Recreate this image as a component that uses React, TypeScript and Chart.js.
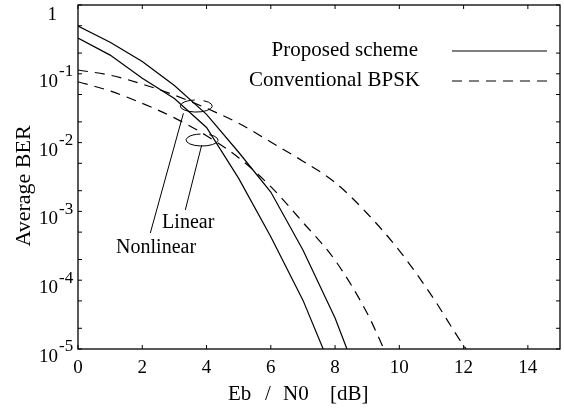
import React, { useEffect, useRef } from "react";
import { Chart, registerables } from "chart.js";

Chart.register(...registerables);

const FONT = '"Liberation Serif", "Times New Roman", Times, serif';

// ---- axis ticks ----
const xTicks = [0, 2, 4, 6, 8, 10, 12, 14];
const yDecades = [1, 1e-1, 1e-2, 1e-3, 1e-4, 1e-5];
const yDecadeExp = ["", "-1", "-2", "-3", "-4", "-5"];
const yMinor = [0.5, 0.2, 0.05, 0.02, 0.005, 0.002, 5e-4, 2e-4, 5e-5, 2e-5];

// ---- series: Proposed scheme (solid) ----
const snrPropNonlinear = [0, 1, 2, 3, 4, 5, 6, 7, 8, 8.37];
const berPropNonlinear = [0.495, 0.288, 0.151, 0.0676, 0.0257, 0.00724, 0.00191, 2.75e-4, 2.82e-5, 1e-5];
const snrPropLinear = [0, 1, 2, 3, 4, 5, 6, 7, 7.63];
const berPropLinear = [0.331, 0.187, 0.0861, 0.0437, 0.0166, 0.00302, 4.27e-4, 5.13e-5, 1e-5];

// ---- series: Conventional BPSK (dashed) ----
const snrConvNonlinear = [0, 1, 2, 3, 4, 5, 6, 7, 8, 9, 10, 11, 12, 12.08];
const berConvNonlinear = [0.1135, 0.0955, 0.0708, 0.049, 0.0316, 0.0191, 0.0102, 0.00537, 0.00263, 9.33e-4, 2.69e-4, 6.03e-5, 1.12e-5, 1e-5];
const snrConvLinear = [0, 1, 2, 3, 4, 5, 6, 7, 8, 9, 9.52];
const berConvLinear = [0.0767, 0.0562, 0.0372, 0.0229, 0.0126, 0.00603, 0.00229, 6.92e-4, 1.95e-4, 3.31e-5, 1e-5];

// ---- texts ----
const legendLabels = ["Proposed scheme", "Conventional BPSK"];
const xTitleParts = ["Eb", "/", "N0", "[dB]"];
const yTitle = "Average BER";

// annotation anchors in data coordinates [dB, BER]
const annNonlinear = { label: "Nonlinear", ellipse: [3.68, 0.034], from: [3.28, 0.0267], to: [2.25, 4.85e-4], text: [2.43, 2.99e-4] };
const annLinear = { label: "Linear", ellipse: [3.86, 0.0109], from: [3.85, 0.00923], to: [3.34, 1.05e-3], text: [3.43, 6.9e-4] };

const toXY = (xs: number[], ys: number[]) => xs.map((x, i) => ({ x, y: ys[i] }));

const DASH = [10, 7];

const decorPlugin = {
  id: "decor",
  afterDraw(chart: any) {
    const { ctx, chartArea: a, scales } = chart;
    const xs = scales.x;
    const ys = scales.y;
    const P = (d: number[]) => [xs.getPixelForValue(d[0]), ys.getPixelForValue(d[1])];
    const line = (x1: number, y1: number, x2: number, y2: number) => {
      ctx.beginPath();
      ctx.moveTo(x1, y1);
      ctx.lineTo(x2, y2);
      ctx.stroke();
    };
    ctx.save();
    ctx.strokeStyle = "#000";
    ctx.fillStyle = "#000";
    ctx.setLineDash([]);

    // frame
    ctx.lineWidth = 1.3;
    ctx.strokeRect(a.left, a.top, a.right - a.left, a.bottom - a.top);

    // inward ticks
    ctx.lineWidth = 1;
    const tl = 4;
    for (const v of xTicks) {
      const px = xs.getPixelForValue(v);
      line(px, a.bottom, px, a.bottom - tl);
      line(px, a.top, px, a.top + tl);
    }
    for (const v of [...yDecades, ...yMinor]) {
      const py = ys.getPixelForValue(v);
      line(a.left, py, a.left + tl, py);
      line(a.right, py, a.right - tl, py);
    }

    // y tick labels with superscripts
    ctx.textBaseline = "middle";
    yDecades.forEach((v, i) => {
      const py = ys.getPixelForValue(v);
      const exp = yDecadeExp[i];
      const bx = a.left - 20;
      if (!exp) {
        ctx.font = `19px ${FONT}`;
        ctx.textAlign = "right";
        ctx.fillText("1", bx - 1, py + 10);
      } else {
        ctx.font = `19px ${FONT}`;
        ctx.textAlign = "right";
        ctx.fillText("10", bx, py + 8);
        ctx.font = `17px ${FONT}`;
        ctx.textAlign = "left";
        ctx.fillText(exp, bx + 1, py - 2);
      }
    });

    // x title
    ctx.font = `21px ${FONT}`;
    ctx.textAlign = "left";
    ctx.textBaseline = "alphabetic";
    const cx = (a.left + a.right) / 2;
    const offs = [-91, -54, -36, 11];
    xTitleParts.forEach((t, i) => ctx.fillText(t, cx + offs[i], 400));

    // y title
    ctx.save();
    ctx.translate(30, (a.top + a.bottom) / 2 + 9);
    ctx.rotate(-Math.PI / 2);
    ctx.textAlign = "center";
    ctx.font = `22px ${FONT}`;
    ctx.fillText(yTitle, 0, 0);
    ctx.restore();

    // legend
    ctx.font = `21px ${FONT}`;
    ctx.textAlign = "right";
    ctx.textBaseline = "middle";
    const lx = a.right - 142;
    const ly = [a.top + 45, a.top + 75];
    ctx.fillText(legendLabels[0], lx, ly[0]);
    ctx.fillText(legendLabels[1], lx + 2, ly[1]);
    ctx.lineWidth = 1.2;
    line(a.right - 108, ly[0] + 1, a.right - 13, ly[0] + 1);
    ctx.setLineDash(DASH);
    line(a.right - 108, ly[1] + 1, a.right - 13, ly[1] + 1);
    ctx.setLineDash([]);

    // annotations
    ctx.lineWidth = 1;
    for (const ann of [annNonlinear, annLinear]) {
      const [ex, ey] = P(ann.ellipse);
      ctx.beginPath();
      ctx.ellipse(ex, ey, 16, 6, 0, -1.1, -1.1 + Math.PI * 1.82);
      ctx.stroke();
      const [fx, fy] = P(ann.from);
      const [tx, ty] = P(ann.to);
      line(fx, fy, tx, ty);
      const [qx, qy] = P(ann.text);
      ctx.font = `20px ${FONT}`;
      ctx.textAlign = "center";
      ctx.textBaseline = "middle";
      ctx.fillText(ann.label, qx, qy);
    }
    ctx.restore();
  },
};

export default function App() {
  const ref = useRef<HTMLCanvasElement>(null);
  useEffect(() => {
    if (!ref.current) return;
    const solid = { borderColor: "#000", borderWidth: 1.2, pointRadius: 0, tension: 0, fill: false };
    const dashed = { ...solid, borderDash: DASH, cubicInterpolationMode: "monotone" as const };
    const chart = new Chart(ref.current, {
      type: "line",
      data: {
        datasets: [
          { label: "Proposed (nonlinear)", data: toXY(snrPropNonlinear, berPropNonlinear), ...solid },
          { label: "Proposed (linear)", data: toXY(snrPropLinear, berPropLinear), ...solid },
          { label: "Conventional BPSK (nonlinear)", data: toXY(snrConvNonlinear, berConvNonlinear), ...dashed },
          { label: "Conventional BPSK (linear)", data: toXY(snrConvLinear, berConvLinear), ...dashed },
        ],
      },
      options: {
        responsive: false,
        animation: false,
        devicePixelRatio: 1,
        layout: { padding: { left: 78, right: 4, top: 5, bottom: 0 } },
        plugins: { legend: { display: false }, tooltip: { enabled: false } },
        scales: {
          x: {
            type: "linear",
            min: 0,
            max: 15,
            position: "bottom",
            afterBuildTicks: (s: any) => {
              s.ticks = xTicks.map((v) => ({ value: v }));
            },
            afterFit: (s: any) => {
              s.height = 61;
            },
            grid: { display: false, drawTicks: false },
            border: { display: false },
            ticks: {
              font: { family: FONT, size: 19 },
              color: "#000",
              padding: 8,
              maxRotation: 0,
              autoSkip: false,
            },
          },
          y: {
            type: "logarithmic",
            min: 1e-5,
            max: 1,
            display: false,
          },
        },
      },
      plugins: [decorPlugin],
    });
    return () => chart.destroy();
  }, []);
  return (
    <div style={{ position: "absolute", left: 0, top: 0, width: 564, height: 410, background: "#fff" }}>
      <canvas ref={ref} width={564} height={410} style={{ display: "block", width: 564, height: 410 }} />
    </div>
  );
}
